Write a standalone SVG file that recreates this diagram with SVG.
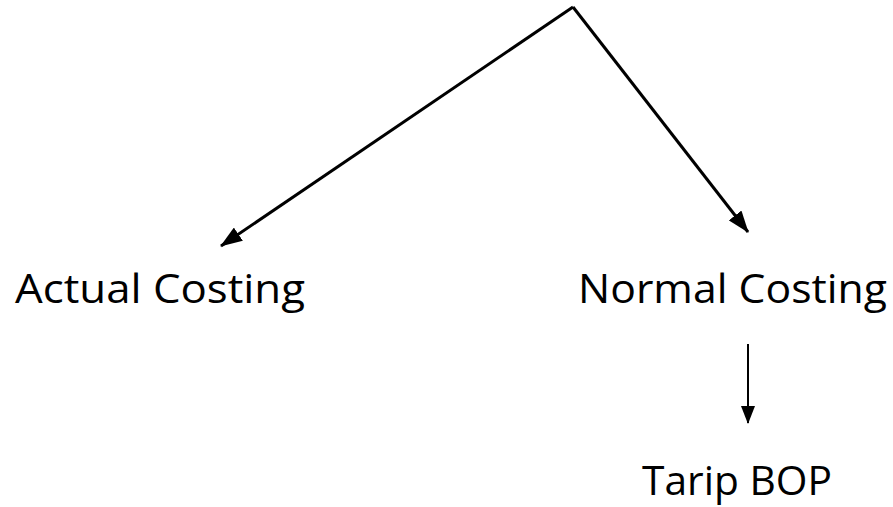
<svg xmlns="http://www.w3.org/2000/svg" width="893" height="507" viewBox="0 0 893 507">
<style>
text{font-family:"Open Sans","Noto Sans","Liberation Sans",sans-serif;font-size:41px;fill:#000}
.c{stroke:#000;fill:none}
</style>
<defs>
<marker id="ah" viewBox="0 0 22 16" refX="21" refY="8" markerWidth="22" markerHeight="16" markerUnits="userSpaceOnUse" orient="auto">
<path d="M0,0 L22,8 L0,16 z" fill="#000"/>
</marker>
<marker id="ah2" viewBox="0 0 18 14" refX="17" refY="7" markerWidth="18" markerHeight="14" markerUnits="userSpaceOnUse" orient="auto">
<path d="M0,0 L18,7 L0,14 z" fill="#000"/>
</marker>
</defs>
<rect width="893" height="507" fill="#fff"/>
<g id="connectors">
<path class="c" d="M573,7 L221,246" stroke-width="3" marker-end="url(#ah)"/>
<path class="c" d="M573,7 L748,232" stroke-width="3" marker-end="url(#ah)"/>
<path class="c" d="M748,344 L748,423" stroke-width="2" marker-end="url(#ah2)"/>
</g>
<g id="actual"><text x="15" y="303" textLength="290" lengthAdjust="spacingAndGlyphs">Actual Costing</text></g>
<g id="normal"><text x="578" y="303" textLength="309" lengthAdjust="spacingAndGlyphs">Normal Costing</text></g>
<g id="tarip"><text x="642" y="495" textLength="190" lengthAdjust="spacingAndGlyphs">Tarip BOP</text></g>
</svg>
